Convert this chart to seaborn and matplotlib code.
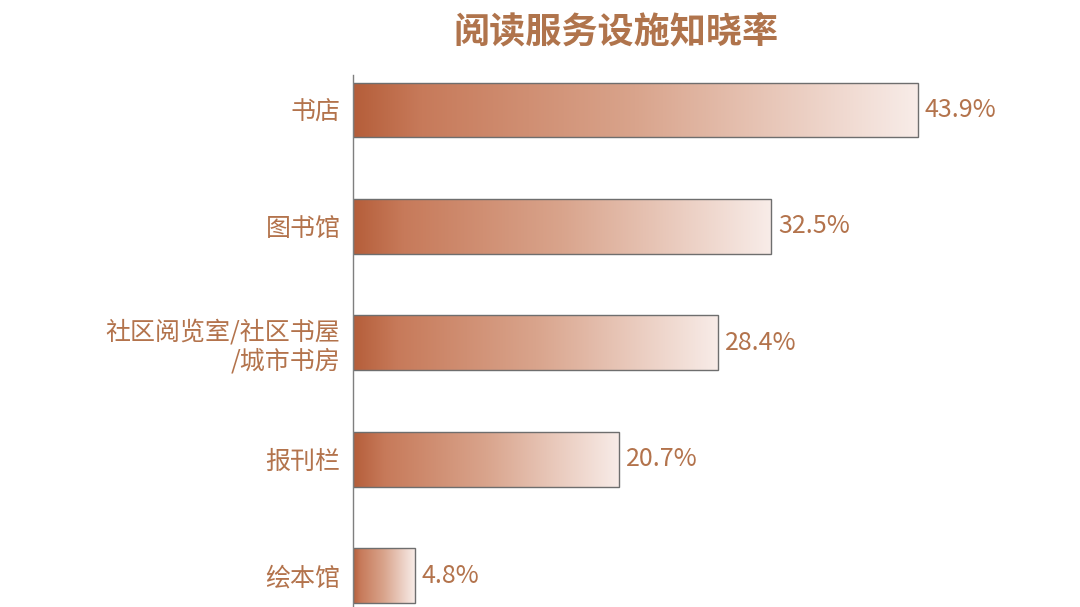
import matplotlib
matplotlib.use("Agg")
import matplotlib.pyplot as plt
import numpy as np
import pandas as pd
import seaborn as sns
from matplotlib.colors import LinearSegmentedColormap

# data
categories = ["书店", "图书馆", "社区阅览室/社区书屋\n/城市书房", "报刊栏", "绘本馆"]
values = [43.9, 32.5, 28.4, 20.7, 4.8]
value_labels = ["43.9%", "32.5%", "28.4%", "20.7%", "4.8%"]

text_color = "#B3734C"
cmap = LinearSegmentedColormap.from_list(
    "grad", [(0, "#B55E3A"), (0.12, "#C77A5A"), (0.5, "#D9A48C"), (1, "#F8ECE8")])

sns.set_theme(style="white")
plt.rcParams["font.family"] = ["Noto Sans CJK SC", "DejaVu Sans"]

df = pd.DataFrame({"cat": categories, "val": values})

fig = plt.figure(figsize=(10.8, 6.07), dpi=100)
ax = fig.add_axes([353 / 1080, 0, 643 / 1080, 1 - 75 / 607])

sns.barplot(data=df, x="val", y="cat", orient="h", ax=ax, width=0.47,
            facecolor="none", edgecolor="#6E6E6E", linewidth=1.0)

# gradient fill clipped to each bar
grad = np.linspace(0, 1, 256).reshape(1, -1)
for patch in ax.patches:
    x0, y0 = patch.get_x(), patch.get_y()
    w, h = patch.get_width(), patch.get_height()
    im = ax.imshow(grad, cmap=cmap, aspect="auto", interpolation="bicubic",
                   extent=[x0, x0 + w, y0 + h, y0], zorder=1)
    im.set_clip_path(patch)
    patch.set_zorder(2)

for i, (v, lab) in enumerate(zip(values, value_labels)):
    ax.annotate(lab, xy=(v, i), xytext=(5, 0), textcoords="offset points",
                va="center", ha="left", fontsize=18, color=text_color)

ax.set_xlim(0, 50)
ax.set_ylim(4.27, -0.3)
ax.set_xlabel("")
ax.set_ylabel("")
ax.set_xticks([])
ax.tick_params(axis="y", length=0, pad=9, labelsize=18, labelcolor=text_color)
for lab in ax.get_yticklabels():
    lab.set_multialignment("right")
    lab.set_linespacing(1.15)
for s in ["top", "right", "bottom"]:
    ax.spines[s].set_visible(False)
ax.spines["left"].set_color("#7F7F7F")
ax.spines["left"].set_linewidth(1.0)

fig.text(616 / 1080, 1 - 32 / 607, "阅读服务设施知晓率", ha="center", va="center",
         fontsize=26, fontweight="bold", color="#B0744C")

fig.savefig("out.png", dpi=100)
